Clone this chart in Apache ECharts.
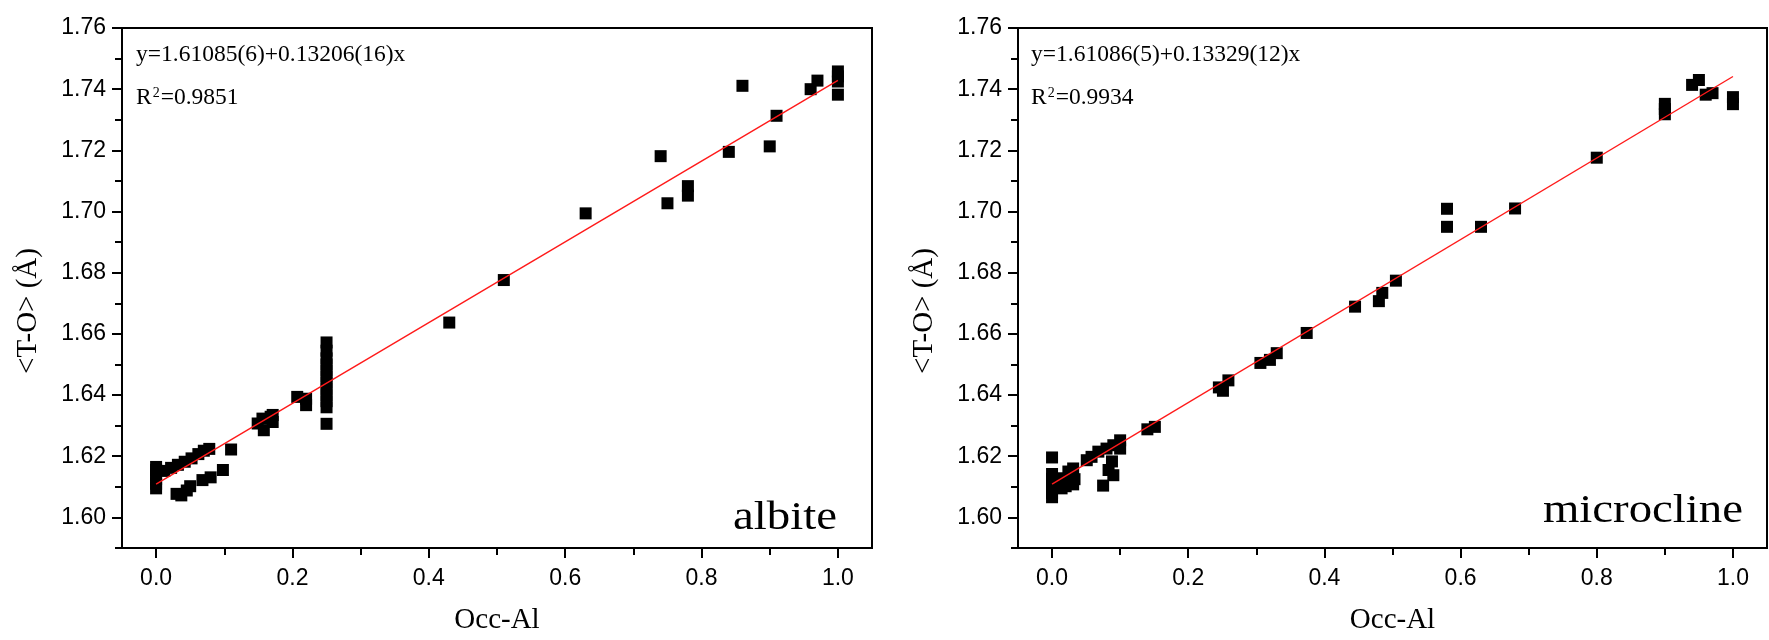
<!DOCTYPE html>
<html>
<head>
<meta charset="utf-8">
<script src="https://cdn.jsdelivr.net/npm/echarts@6/dist/echarts.min.js"></script>
<style>
html,body{margin:0;padding:0;background:#fff;}
#chart{width:1769px;height:640px;}
</style>
</head>
<body>
<div id="chart"></div>
<script>
// ---- data ----
const albiteX = [0,0,0,0,0,0,
  0.012,0.022,0.032,0.042,0.052,0.062,0.070,0.078,
  0.030,0.037,0.045,0.050,0.068,0.080,0.098,0.110,
  0.149,0.156,0.158,0.168,0.171,0.171,
  0.207,0.220,0.220,
  0.25,0.25,0.25,0.25,0.25,0.25,0.25,0.25,0.25,0.25,0.25,0.25,
  0.43,0.51,0.63,0.74,0.75,0.78,0.78,0.84,0.86,0.90,0.91,0.96,0.97,1.0,1.0,1.0,1.0];
const albiteY = [1.6095,1.6110,1.6125,1.6140,1.6155,1.6165,
  1.6152,1.6162,1.6172,1.6182,1.6193,1.6207,1.6218,1.6224,
  1.6077,1.6072,1.6088,1.6102,1.6122,1.6131,1.6155,1.6222,
  1.6307,1.6323,1.6285,1.6329,1.6335,1.6312,
  1.6394,1.6388,1.6367,
  1.6572,1.6545,1.6520,1.6500,1.6480,1.6460,1.6440,1.6420,1.6400,1.6380,1.6360,1.6306,
  1.6637,1.6776,1.6994,1.7181,1.7027,1.7083,1.7052,1.7195,1.7411,1.7213,1.7313,1.7400,1.7428,1.7458,1.7442,1.7425,1.7382];

const microX = [0,0,0,0,0,0,0,
  0.012,0.014,0.020,0.024,0.028,0.031,0.031,0.033,
  0.051,0.058,0.068,0.075,0.080,0.083,0.088,0.090,0.090,0.100,0.100,
  0.140,0.151,
  0.245,0.251,0.259,
  0.306,0.320,0.330,
  0.374,0.445,0.480,0.485,0.505,
  0.58,0.58,0.63,0.68,0.80,
  0.90,0.90,0.90,0.94,0.95,0.96,0.97,1.0,1.0];
const microY = [1.6196,1.6142,1.6126,1.6110,1.6095,1.6080,1.6066,
  1.6128,1.6095,1.6102,1.6150,1.6135,1.6160,1.6108,1.6125,
  1.6187,1.6198,1.6215,1.6104,1.6225,1.6155,1.6183,1.6236,1.6138,1.6252,1.6225,
  1.6288,1.6296,
  1.6425,1.6414,1.6448,
  1.6505,1.6515,1.6537,
  1.6603,1.6689,1.6707,1.6734,1.6774,
  1.7009,1.6950,1.6950,1.7010,1.7176,
  1.7352,1.7335,1.7318,1.7414,1.7430,1.7382,1.7387,1.7374,1.7351];

// fitted lines (end points as drawn)
const albiteFitX = [0, 1];
const albiteFitY = [1.61085, 1.74291];
const microFitX = [0, 1];
const microFitY = [1.61086, 1.74415];

// tick values
const xMajorTicks = [0, 0.2, 0.4, 0.6, 0.8, 1.0];
const xMinorTicks = [0.1, 0.3, 0.5, 0.7, 0.9];
const yMajorTicks = [1.60, 1.62, 1.64, 1.66, 1.68, 1.70, 1.72, 1.74, 1.76];
const yMinorTicks = [1.59, 1.61, 1.63, 1.65, 1.67, 1.69, 1.71, 1.73, 1.75];

const zip = (a, b) => a.map((v, i) => [v, b[i]]);

const SERIF = '"Liberation Serif","Times New Roman",serif';
const SANS = '"Liberation Sans",Arial,sans-serif';

function mainX(grid) {
  return {
    type: 'value', gridIndex: grid, position: 'bottom', min: -0.05, max: 1.05,
    name: 'Occ-Al', nameLocation: 'middle', nameGap: 58,
    nameTextStyle: {fontFamily: SERIF, fontSize: 29, color: '#000'},
    axisLine: {show: true, onZero: false, lineStyle: {color: '#000', width: 2}},
    axisTick: {show: true, length: 10, customValues: xMajorTicks, lineStyle: {color: '#000', width: 2}},
    axisLabel: {show: true, customValues: xMajorTicks, margin: 19, fontFamily: SANS, fontSize: 23, color: '#000',
      formatter: v => v.toFixed(1)},
    splitLine: {show: false}
  };
}
function minorX(grid) {
  return {
    type: 'value', gridIndex: grid, position: 'bottom', offset: 0, min: -0.05, max: 1.05,
    axisLine: {show: false, onZero: false},
    axisTick: {show: true, length: 7, customValues: xMinorTicks, lineStyle: {color: '#000', width: 2}},
    axisLabel: {show: false},
    splitLine: {show: false}
  };
}
function mainY(grid) {
  return {
    type: 'value', gridIndex: grid, position: 'left', min: 1.59, max: 1.76,
    name: '<T-O> (Å)', nameLocation: 'middle', nameGap: 79, nameRotate: 90,
    nameTextStyle: {fontFamily: SERIF, fontSize: 29, color: '#000', padding: [0, 46, 0, 0]},
    axisLine: {show: true, onZero: false, lineStyle: {color: '#000', width: 2}},
    axisTick: {show: true, length: 10, customValues: yMajorTicks, lineStyle: {color: '#000', width: 2}},
    axisLabel: {show: true, customValues: yMajorTicks, margin: 16, fontFamily: SANS, fontSize: 23, color: '#000',
      formatter: v => v.toFixed(2)},
    splitLine: {show: false}
  };
}
function minorY(grid) {
  return {
    type: 'value', gridIndex: grid, position: 'left', offset: 0, min: 1.59, max: 1.76,
    axisLine: {show: false, onZero: false},
    axisTick: {show: true, length: 7, customValues: yMinorTicks, lineStyle: {color: '#000', width: 2}},
    axisLabel: {show: false},
    splitLine: {show: false}
  };
}

const eqStyle = {fontSize: 23.5, fontFamily: SERIF, fill: '#000'};
const supRich = {s: {fontSize: 14, fontFamily: SERIF, fill: '#000', verticalAlign: 'top', lineHeight: 14, padding: [0, 1, 10, 1]},
                 n: {fontSize: 23.5, fontFamily: SERIF, fill: '#000'}};

const chart = echarts.init(document.getElementById('chart'), null, {renderer: 'canvas'});
chart.setOption({
  backgroundColor: '#fff',
  animation: false,
  grid: [
    {left: 122, top: 28, width: 750, height: 522, show: true, borderColor: '#000', borderWidth: 2, backgroundColor: 'transparent'},
    {left: 1018, top: 28, width: 749, height: 522, show: true, borderColor: '#000', borderWidth: 2, backgroundColor: 'transparent'}
  ],
  xAxis: [mainX(0), mainX(1), minorX(0), minorX(1)],
  yAxis: [mainY(0), mainY(1), minorY(0), minorY(1)],
  series: [
    {type: 'scatter', xAxisIndex: 0, yAxisIndex: 0, data: zip(albiteX, albiteY),
      symbol: 'rect', symbolSize: 12, itemStyle: {color: '#000', opacity: 1}, z: 2},
    {type: 'line', xAxisIndex: 0, yAxisIndex: 0, data: zip(albiteFitX, albiteFitY),
      showSymbol: false, symbol: 'none', lineStyle: {color: '#ff1a1a', width: 1.4}, z: 3},
    {type: 'scatter', xAxisIndex: 1, yAxisIndex: 1, data: zip(microX, microY),
      symbol: 'rect', symbolSize: 12, itemStyle: {color: '#000', opacity: 1}, z: 2},
    {type: 'line', xAxisIndex: 1, yAxisIndex: 1, data: zip(microFitX, microFitY),
      showSymbol: false, symbol: 'none', lineStyle: {color: '#ff1a1a', width: 1.4}, z: 3}
  ],
  graphic: [
    {type: 'text', x: 136, y: 43, style: Object.assign({text: 'y=1.61085(6)+0.13206(16)x'}, eqStyle)},
    {type: 'text', x: 136, y: 86, style: {text: '{n|R}{s|2}{n|=0.9851}', rich: supRich}},
    {type: 'text', x: 1031, y: 43, style: Object.assign({text: 'y=1.61086(5)+0.13329(12)x'}, eqStyle)},
    {type: 'text', x: 1031, y: 86, style: {text: '{n|R}{s|2}{n|=0.9934}', rich: supRich}},
    {type: 'text', x: 837, y: 538, scaleX: 1.17, style: {text: 'albite', fontSize: 40, fontFamily: SERIF, fill: '#000', align: 'right', verticalAlign: 'bottom'}},
    {type: 'text', x: 1743, y: 531, scaleX: 1.17, style: {text: 'microcline', fontSize: 40, fontFamily: SERIF, fill: '#000', align: 'right', verticalAlign: 'bottom'}}
  ]
});
</script>
</body>
</html>
